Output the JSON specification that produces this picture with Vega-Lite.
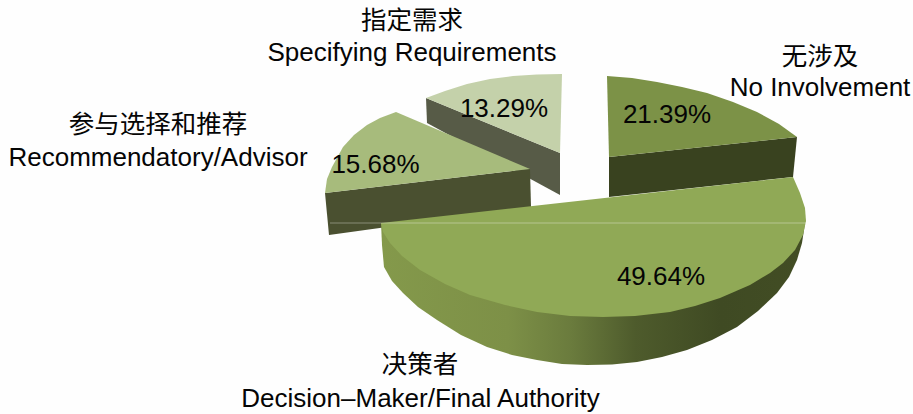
{"$schema":"https://vega.github.io/schema/vega-lite/v6.json","width":913,"height":414,"autosize":{"type":"fit","contains":"padding"},"padding":0,"background":"#fefefe","config":{"view":{"stroke":null}},
"datasets":{"outline":[
{"s":"spec","f":"side","i":0,"x":426,"y":98},{"s":"spec","f":"side","i":1,"x":560,"y":153},{"s":"spec","f":"side","i":2,"x":560,"y":195},{"s":"spec","f":"side","i":3,"x":427,"y":123},
{"s":"spec","f":"top","i":0,"x":426,"y":98},{"s":"spec","f":"top","i":1,"x":445,"y":91},{"s":"spec","f":"top","i":2,"x":467,"y":84},{"s":"spec","f":"top","i":3,"x":490,"y":79},{"s":"spec","f":"top","i":4,"x":513,"y":76},{"s":"spec","f":"top","i":5,"x":537,"y":74.5},{"s":"spec","f":"top","i":6,"x":562,"y":74},{"s":"spec","f":"top","i":7,"x":560,"y":153},
{"s":"rec","f":"side","i":0,"x":325,"y":193},{"s":"rec","f":"side","i":1,"x":530,"y":169},{"s":"rec","f":"side","i":2,"x":531,"y":207},{"s":"rec","f":"side","i":3,"x":329,"y":235},
{"s":"rec","f":"top","i":0,"x":396,"y":112},{"s":"rec","f":"top","i":1,"x":380,"y":118},{"s":"rec","f":"top","i":2,"x":367,"y":125},{"s":"rec","f":"top","i":3,"x":354,"y":135},{"s":"rec","f":"top","i":4,"x":343,"y":147},{"s":"rec","f":"top","i":5,"x":332,"y":167},{"s":"rec","f":"top","i":6,"x":327,"y":179},{"s":"rec","f":"top","i":7,"x":325,"y":193},{"s":"rec","f":"top","i":8,"x":530,"y":169},
{"s":"none","f":"side","i":0,"x":609,"y":157},{"s":"none","f":"side","i":1,"x":797,"y":137},{"s":"none","f":"side","i":2,"x":793,"y":177},{"s":"none","f":"side","i":3,"x":609,"y":197},
{"s":"none","f":"top","i":0,"x":607,"y":76},{"s":"none","f":"top","i":1,"x":632,"y":78},{"s":"none","f":"top","i":2,"x":657,"y":82},{"s":"none","f":"top","i":3,"x":682,"y":87},{"s":"none","f":"top","i":4,"x":707,"y":93},{"s":"none","f":"top","i":5,"x":733,"y":102},{"s":"none","f":"top","i":6,"x":757,"y":112},{"s":"none","f":"top","i":7,"x":779,"y":124},{"s":"none","f":"top","i":8,"x":797,"y":137},{"s":"none","f":"top","i":9,"x":609,"y":157},
{"s":"dec","f":"side","i":0,"x":381,"y":223},{"s":"dec","f":"side","i":1,"x":382,"y":245},{"s":"dec","f":"side","i":2,"x":384,"y":267},{"s":"dec","f":"side","i":3,"x":392,"y":281},{"s":"dec","f":"side","i":4,"x":403,"y":293},{"s":"dec","f":"side","i":5,"x":418,"y":307},{"s":"dec","f":"side","i":6,"x":437,"y":320},{"s":"dec","f":"side","i":7,"x":461,"y":335},{"s":"dec","f":"side","i":8,"x":487,"y":347},{"s":"dec","f":"side","i":9,"x":512,"y":355},{"s":"dec","f":"side","i":10,"x":537,"y":360},{"s":"dec","f":"side","i":11,"x":562,"y":364},{"s":"dec","f":"side","i":12,"x":587,"y":365},{"s":"dec","f":"side","i":13,"x":612,"y":364.5},{"s":"dec","f":"side","i":14,"x":637,"y":362},{"s":"dec","f":"side","i":15,"x":662,"y":357},{"s":"dec","f":"side","i":16,"x":687,"y":350},{"s":"dec","f":"side","i":17,"x":712,"y":340},{"s":"dec","f":"side","i":18,"x":737,"y":327},{"s":"dec","f":"side","i":19,"x":758,"y":311},{"s":"dec","f":"side","i":20,"x":777,"y":293},{"s":"dec","f":"side","i":21,"x":789,"y":277},{"s":"dec","f":"side","i":22,"x":797,"y":260},{"s":"dec","f":"side","i":23,"x":802,"y":243},{"s":"dec","f":"side","i":24,"x":805,"y":223},
{"s":"dec","f":"top","i":0,"x":793,"y":177},{"s":"dec","f":"top","i":1,"x":800,"y":193},{"s":"dec","f":"top","i":2,"x":805,"y":208},{"s":"dec","f":"top","i":3,"x":806,"y":221},{"s":"dec","f":"top","i":4,"x":803,"y":235},{"s":"dec","f":"top","i":5,"x":795,"y":250},{"s":"dec","f":"top","i":6,"x":783,"y":263},{"s":"dec","f":"top","i":7,"x":770,"y":273},{"s":"dec","f":"top","i":8,"x":750,"y":285},{"s":"dec","f":"top","i":9,"x":720,"y":298},{"s":"dec","f":"top","i":10,"x":695,"y":306},{"s":"dec","f":"top","i":11,"x":670,"y":312},{"s":"dec","f":"top","i":12,"x":635,"y":316},{"s":"dec","f":"top","i":13,"x":603,"y":317},{"s":"dec","f":"top","i":14,"x":570,"y":316},{"s":"dec","f":"top","i":15,"x":537,"y":312},{"s":"dec","f":"top","i":16,"x":505,"y":305},{"s":"dec","f":"top","i":17,"x":470,"y":295},{"s":"dec","f":"top","i":18,"x":445,"y":284},{"s":"dec","f":"top","i":19,"x":420,"y":270},{"s":"dec","f":"top","i":20,"x":402,"y":256},{"s":"dec","f":"top","i":21,"x":390,"y":243},{"s":"dec","f":"top","i":22,"x":383,"y":232},{"s":"dec","f":"top","i":23,"x":381,"y":223}
],
"shares":[{"name":"Specifying Requirements","share":0.1329,"x":504,"y":109},{"name":"Recommendatory/Advisor","share":0.1568,"x":375.5,"y":165},{"name":"No Involvement","share":0.2139,"x":667,"y":115},{"name":"Decision-Maker/Final Authority","share":0.4964,"x":661,"y":277}],
"labelsCjk":[{"t":"指定需求","x":412,"y":21},{"t":"无涉及","x":820,"y":57},{"t":"参与选择和推荐","x":158,"y":125},{"t":"决策者","x":420,"y":365}],
"labelsLatin":[{"t":"Specifying Requirements","x":412,"y":53},{"t":"No Involvement","x":820,"y":88},{"t":"Recommendatory/Advisor","x":158,"y":158},{"t":"Decision–Maker/Final Authority","x":420.5,"y":399}],
"seam":[{"x":330,"x2":806,"y":223}]},
"encoding":{"x":{"field":"x","type":"quantitative","axis":null,"scale":{"domain":[0,913],"nice":false,"zero":false}},"y":{"field":"y","type":"quantitative","axis":null,"scale":{"domain":[414,0],"nice":false,"zero":false}}},
"layer":[
{"data":{"name":"outline"},"transform":[{"filter":"datum.s=='spec'&&datum.f=='side'"}],"mark":{"type":"line","fill":"#575b47","stroke":null},"encoding":{"order":{"field":"i"}}},
{"data":{"name":"outline"},"transform":[{"filter":"datum.s=='spec'&&datum.f=='top'"}],"mark":{"type":"line","fill":"#c4d1aa","stroke":null},"encoding":{"order":{"field":"i"}}},
{"data":{"name":"outline"},"transform":[{"filter":"datum.s=='rec'&&datum.f=='side'"}],"mark":{"type":"line","fill":"#4a5030","stroke":null},"encoding":{"order":{"field":"i"}}},
{"data":{"name":"outline"},"transform":[{"filter":"datum.s=='rec'&&datum.f=='top'"}],"mark":{"type":"line","fill":"#a7bb7c","stroke":null},"encoding":{"order":{"field":"i"}}},
{"data":{"name":"outline"},"transform":[{"filter":"datum.s=='none'&&datum.f=='side'"}],"mark":{"type":"line","fill":"#39421f","stroke":null},"encoding":{"order":{"field":"i"}}},
{"data":{"name":"outline"},"transform":[{"filter":"datum.s=='none'&&datum.f=='top'"}],"mark":{"type":"line","fill":"#7c9247","stroke":null},"encoding":{"order":{"field":"i"}}},
{"data":{"name":"outline"},"transform":[{"filter":"datum.s=='dec'&&datum.f=='side'"}],"mark":{"type":"line","stroke":null,"fill":{"gradient":"linear","x1":0,"x2":1,"y1":0,"y2":0,"stops":[{"offset":0,"color":"#84994b"},{"offset":0.3,"color":"#7d9047"},{"offset":0.45,"color":"#6a7b3d"},{"offset":0.6,"color":"#4e5b2c"},{"offset":0.8,"color":"#3f4a23"},{"offset":1,"color":"#424d24"}]}},"encoding":{"order":{"field":"i"}}},
{"data":{"name":"outline"},"transform":[{"filter":"datum.s=='dec'&&datum.f=='top'"}],"mark":{"type":"line","fill":"#90a956","stroke":null},"encoding":{"order":{"field":"i"}}},
{"data":{"name":"seam"},"mark":{"type":"rule","color":"#ffffff","opacity":0.35,"strokeWidth":1},"encoding":{"x2":{"field":"x2"}}},
{"data":{"name":"shares"},"mark":{"type":"text","font":"Liberation Sans","fontSize":26,"align":"center","baseline":"middle","color":"#050505"},"encoding":{"text":{"field":"share","type":"quantitative","format":".2%"}}},
{"data":{"name":"labelsCjk"},"mark":{"type":"text","font":"Noto Sans CJK SC","fontSize":25.5,"align":"center","baseline":"middle","color":"#050505"},"encoding":{"text":{"field":"t"}}},
{"data":{"name":"labelsLatin"},"mark":{"type":"text","font":"Liberation Sans","fontSize":26,"align":"center","baseline":"middle","color":"#050505"},"encoding":{"text":{"field":"t"}}}
]}
